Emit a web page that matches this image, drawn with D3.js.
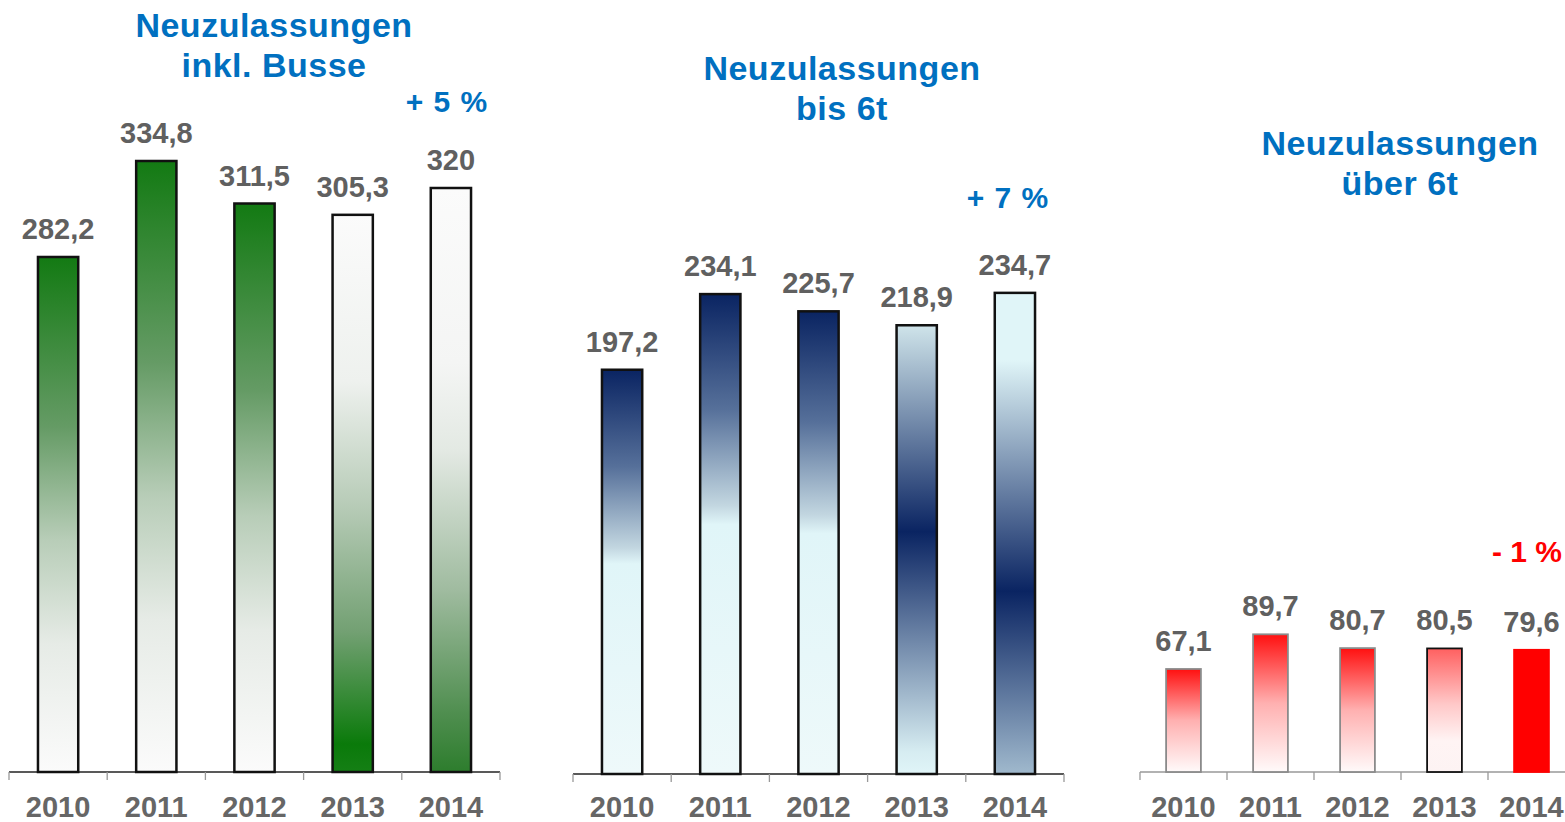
<!DOCTYPE html>
<html>
<head>
<meta charset="utf-8">
<script src="https://cdn.jsdelivr.net/npm/d3@7"></script>
<style>
  body { margin: 0; background: #fff; }
  svg { display: block; font-family: "Liberation Sans", Arial, sans-serif; font-weight: bold; }
</style>
</head>
<body>
<script>
// data
var years = ["2010", "2011", "2012", "2013", "2014"];
var totalValues = [282.2, 334.8, 311.5, 305.3, 320];
var under6tValues = [197.2, 234.1, 225.7, 218.9, 234.7];
var over6tValues = [67.1, 89.7, 80.7, 80.5, 79.6];
var panelTitles = [
  ["Neuzulassungen", "inkl. Busse"],
  ["Neuzulassungen", "bis 6t"],
  ["Neuzulassungen", "über 6t"]
];
var changeLabels = ["+ 5 %", "+ 7 %", "- 1 %"];

// gradients per bar (top -> bottom)
var green = "#137a13", white = "#fbfbfb";
var navy = "#0a2462", cyan = "#e0f5f8";
var greenFills = [
  [[0, green], [0.33, "#659b65"], [0.55, "#b8cdb8"], [0.75, "#e6ebe6"], [1, white]],
  [[0, green], [0.33, "#659b65"], [0.55, "#b8cdb8"], [0.75, "#e6ebe6"], [1, white]],
  [[0, green], [0.33, "#659b65"], [0.55, "#b8cdb8"], [0.75, "#e6ebe6"], [1, white]],
  [[0, white], [0.3, "#eef1ee"], [0.53, "#b5cab5"], [0.75, "#72a072"], [0.95, "#0a7a0a"], [1, "#157f15"]],
  [[0, white], [0.3, "#f4f5f4"], [0.45, "#e3e9e3"], [0.69, "#9fbb9f"], [0.9, "#4f8e4f"], [1, "#2d7d2d"]]
];
var blueFills = [
  [[0, navy], [0.24, "#56709a"], [0.44, "#c2d6e0"], [0.48, cyan], [1, "#eef9fa"]],
  [[0, navy], [0.24, "#56709a"], [0.44, "#c2d6e0"], [0.48, cyan], [1, "#eef9fa"]],
  [[0, navy], [0.24, "#56709a"], [0.44, "#c2d6e0"], [0.48, cyan], [1, "#eef9fa"]],
  [[0, "#cfe4ea"], [0.46, navy], [0.95, "#d6ecf1"], [1, cyan]],
  [[0, cyan], [0.14, cyan], [0.62, navy], [1, "#a0b9cd"]]
];
var redFills = [
  [[0, "#ff1010"], [0.5, "#ffb0b0"], [1, "#fffafa"]],
  [[0, "#ff1010"], [0.5, "#ffb0b0"], [1, "#fffafa"]],
  [[0, "#ff1010"], [0.5, "#ffb0b0"], [1, "#fffafa"]],
  [[0, "#ff6060"], [0.45, "#ffc8c8"], [0.75, "#fff4f4"], [1, "#fdf3f3"]],
  [[0, "#ff0000"], [1, "#ff0000"]]
];

var panels = [
  { values: totalValues, fills: greenFills, x0: 9, x1: 500, base: 772, max: 400, top: 42, pad: 0.59,
    stroke: ["#111", "#111", "#111", "#111", "#111"], sw: 2.5, axis: "#222",
    titleX: 274, titleY: 37, changeX: 447, changeY: 112, changeColor: "#0070c0", anchor: "middle", ls: 1 },
  { values: under6tValues, fills: blueFills, x0: 573, x1: 1064, base: 774, max: 300, top: 159, pad: 0.59,
    stroke: ["#111", "#111", "#111", "#111", "#111"], sw: 2.5, axis: "#222",
    titleX: 842, titleY: 80, changeX: 1008, changeY: 208, changeColor: "#0070c0", anchor: "middle", ls: 1 },
  { values: over6tValues, fills: redFills, x0: 1140, x1: 1575, base: 772, max: 100, top: 618.5, pad: 0.6,
    stroke: ["#8a8a8a", "#8a8a8a", "#8a8a8a", "#111", "#ff0000"], sw: 1.8, axis: "#999",
    titleX: 1400, titleY: 155, changeX: 1562, changeY: 562, changeColor: "#ff0000", anchor: "end", ls: 0 }
];

var width = 1565, height = 822;
var svg = d3.select("body").append("svg").attr("width", width).attr("height", height);
var defs = svg.append("defs");

function fmt(v) { return String(v).replace(".", ","); }

panels.forEach(function(p, pi) {
  var x = d3.scaleBand().domain(years).range([p.x0, p.x1])
    .paddingInner(p.pad).paddingOuter(p.pad / 2);
  var y = d3.scaleLinear().domain([0, p.max]).range([p.base, p.top]);
  var g = svg.append("g");

  // gradients
  p.fills.forEach(function(stops, i) {
    var lg = defs.append("linearGradient").attr("id", "grad" + pi + "_" + i)
      .attr("x1", 0).attr("y1", 0).attr("x2", 0).attr("y2", 1);
    stops.forEach(function(s) {
      lg.append("stop").attr("offset", s[0]).attr("stop-color", s[1]);
    });
  });

  // axis line + boundary ticks
  var step = x.step();
  g.append("line").attr("x1", p.x0).attr("x2", p.x1).attr("y1", p.base).attr("y2", p.base)
    .attr("stroke", p.axis).attr("stroke-width", 1.3);
  g.selectAll(".tick").data(d3.range(years.length + 1)).enter().append("line")
    .attr("x1", function(d) { return p.x0 + d * step; })
    .attr("x2", function(d) { return p.x0 + d * step; })
    .attr("y1", p.base).attr("y2", p.base + 8)
    .attr("stroke", "#999").attr("stroke-width", 1.3);

  // bars
  g.selectAll(".bar").data(p.values).enter().append("rect")
    .attr("x", function(d, i) { return x(years[i]); })
    .attr("width", x.bandwidth())
    .attr("y", function(d) { return y(d); })
    .attr("height", function(d) { return p.base - y(d); })
    .attr("fill", function(d, i) { return "url(#grad" + pi + "_" + i + ")"; })
    .attr("stroke", function(d, i) { return p.stroke[i]; })
    .attr("stroke-width", p.sw);

  // value labels
  g.selectAll(".val").data(p.values).enter().append("text")
    .attr("x", function(d, i) { return x(years[i]) + x.bandwidth() / 2; })
    .attr("y", function(d) { return y(d) - 18; })
    .attr("text-anchor", "middle")
    .attr("font-size", 29)
    .attr("fill", "#606060")
    .text(fmt);

  // year labels
  g.selectAll(".year").data(years).enter().append("text")
    .attr("x", function(d) { return x(d) + x.bandwidth() / 2; })
    .attr("y", 817)
    .attr("text-anchor", "middle")
    .attr("font-size", 29)
    .attr("fill", "#666")
    .text(function(d) { return d; });

  // title
  panelTitles[pi].forEach(function(t, li) {
    g.append("text").attr("x", p.titleX).attr("y", p.titleY + li * 40)
      .attr("text-anchor", "middle").attr("font-size", 34).attr("letter-spacing", 0.5)
      .attr("fill", "#0070c0").text(t);
  });

  // change label
  g.append("text").attr("x", p.changeX).attr("y", p.changeY)
    .attr("text-anchor", p.anchor).attr("font-size", 30).attr("letter-spacing", p.ls)
    .attr("fill", p.changeColor).text(changeLabels[pi]);
});
</script>
</body>
</html>
